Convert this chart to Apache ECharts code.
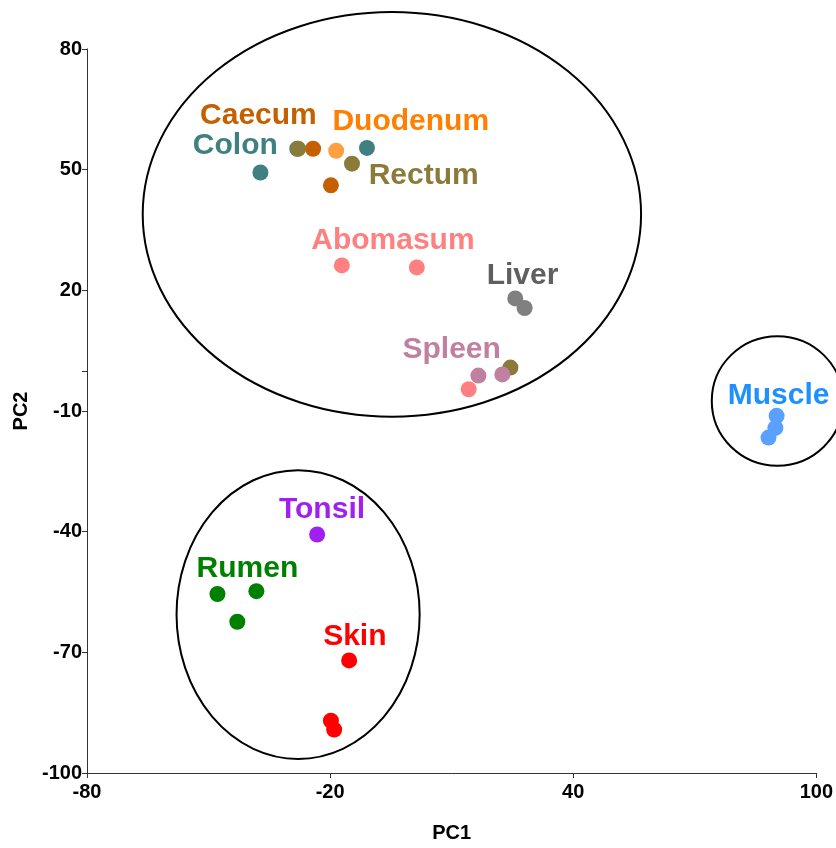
<!DOCTYPE html>
<html>
<head>
<meta charset="utf-8">
<script src="https://cdn.jsdelivr.net/npm/echarts@6/dist/echarts.min.js"></script>
<style>html,body{margin:0;padding:0;background:#fff;overflow:hidden}#c{width:836px;height:848px}</style>
</head>
<body>
<div id="c"></div>
<script>
// ---- data ----
const groups = ['Colon','Caecum','Duodenum','Rectum','Liver','Spleen','Abomasum','Muscle','Tonsil','Rumen','Skin'];
const Colon    = [[-37.2,49.3],[-10.9,55.4],[-28.1,55.2]];
const Caecum   = [[-24.2,55.2],[-19.8,46.1]];
const Duodenum = [[-18.5,54.7]];
const Rectum   = [[-27.9,55.2],[-14.6,51.5],[24.5,0.8]];
const Liver    = [[25.7,18.0],[28.0,15.6]];
const Spleen   = [[16.6,-1.2],[22.5,-0.9]];
const Abomasum = [[-17.1,26.2],[1.4,25.7],[14.2,-4.6]];
const Muscle   = [[90.2,-11.2],[89.9,-14.2],[88.2,-16.6]];
const Tonsil   = [[-23.2,-40.7]];
const Rumen    = [[-47.8,-55.5],[-38.2,-54.8],[-42.9,-62.4]];
const Skin     = [[-15.3,-72.0],[-19.8,-87.0],[-19.0,-89.2]];
// label anchor (data coords) per group
const labelAnchors = {
  Caecum:[-37.7,63.3], Duodenum:[-0.1,61.8], Colon:[-43.4,55.9], Rectum:[3.1,48.5],
  Abomasum:[-4.5,32.3], Liver:[27.5,23.7], Spleen:[10.0,5.3], Muscle:[90.7,-6.1],
  Tonsil:[-22.0,-34.6], Rumen:[-40.4,-49.3], Skin:[-13.9,-66.1]
};
// ellipses: [cx, cy, rx, ry] in data units
const ellipses = [[-4.75,38.9,61.5,50.3],[90.4,-7.5,16.2,16.1],[-27.9,-60.6,30.0,35.9]];
const xTicks = {min:-80, max:100, interval:60};
const yTicks = {min:-100, max:80, interval:30};

// ---- styles ----
const pointColors = {Colon:'#408080',Caecum:'#C46000',Duodenum:'#FFA040',Rectum:'#8B7B3A',Liver:'#808080',
  Spleen:'#C080A0',Abomasum:'#FF8080',Muscle:'#5AA0FF',Tonsil:'#A020F0',Rumen:'#008000',Skin:'#FF0000'};
const labelColors = {Colon:'#408080',Caecum:'#C46000',Duodenum:'#FF8000',Rectum:'#8B7B3A',Liver:'#5F5F5F',
  Spleen:'#C080A0',Abomasum:'#FF8080',Muscle:'#1E90FF',Tonsil:'#A020F0',Rumen:'#008000',Skin:'#FF0000'};
const dataMap = {Colon,Caecum,Duodenum,Rectum,Liver,Spleen,Abomasum,Muscle,Tonsil,Rumen,Skin};
const FONT = '"Liberation Sans", Arial, sans-serif';

const chart = echarts.init(document.getElementById('c'), null, {renderer:'canvas', width:836, height:848});
const series = [];
series.push({
  type:'custom', clip:false, silent:true, z:1,
  data: ellipses,
  renderItem: function(params, api){
    const c = api.coord([api.value(0), api.value(1)]);
    const s = api.size([api.value(2), api.value(3)]);
    const cx=c[0], cy=c[1], rx=s[0], ry=s[1];
    const d = 'M'+(cx-rx)+' '+cy+' A'+rx+' '+ry+' 0 1 0 '+(cx+rx)+' '+cy+' A'+rx+' '+ry+' 0 1 0 '+(cx-rx)+' '+cy+' Z';
    return {type:'path', shape:{pathData:d}, style:{fill:null, stroke:'#000', lineWidth:2}};
  }
});
groups.forEach(g=>{
  series.push({type:'scatter', name:g, data:dataMap[g], symbol:'circle', symbolSize:16,
    itemStyle:{color:pointColors[g], opacity:1}, z:2, silent:true});
});
series.push({
  type:'scatter', symbolSize:0, z:3, silent:true, itemStyle:{opacity:1},
  data: groups.map(g=>({name:g, value:labelAnchors[g],
    label:{show:true, position:'inside', formatter:g, color:labelColors[g], opacity:1,
      fontSize:30, fontWeight:'bold', fontFamily:FONT}}))
});

chart.setOption({
  animation:false,
  backgroundColor:'#fff',
  grid:{left:87, top:49, width:732, height:732, containLabel:false},
  xAxis:{type:'value', min:xTicks.min, max:xTicks.max, interval:xTicks.interval,
    name:'PC1', nameLocation:'middle', nameGap:50,
    nameTextStyle:{fontSize:20, fontWeight:'bold', color:'#000', fontFamily:FONT},
    axisLine:{show:true, onZero:false, lineStyle:{color:'#333', width:1}},
    axisTick:{show:true, length:5, lineStyle:{color:'#333'}},
    axisLabel:{fontSize:20, fontWeight:'bold', color:'#000', fontFamily:FONT, margin:9},
    splitLine:{show:false}},
  yAxis:[{type:'value', min:yTicks.min, max:yTicks.max, interval:yTicks.interval,
    name:'PC2', nameLocation:'middle', nameGap:54, nameRotate:90,
    nameTextStyle:{fontSize:20, fontWeight:'bold', color:'#000', fontFamily:FONT},
    axisLine:{show:true, onZero:false, lineStyle:{color:'#333', width:1}},
    axisTick:{show:true, length:5, lineStyle:{color:'#333'}},
    axisLabel:{fontSize:20, fontWeight:'bold', color:'#000', fontFamily:FONT, margin:5},
    splitLine:{show:false}},
   {type:'value', min:yTicks.min, max:yTicks.max, interval:100, position:'left', offset:0,
    axisLine:{show:false, onZero:false}, axisTick:{show:true, length:5, lineStyle:{color:'#333'}},
    axisLabel:{show:false}, splitLine:{show:false}}],
  series: series
});
</script>
</body>
</html>
